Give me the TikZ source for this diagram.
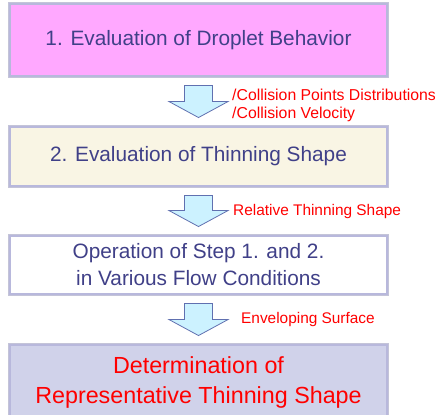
\documentclass[tikz,border=0pt]{standalone}
\usepackage{fontspec}
\setmainfont{Liberation Sans}
\usetikzlibrary{calc}
\definecolor{bord}{RGB}{92,96,168}
\definecolor{bordin}{RGB}{184,184,220}
\definecolor{bordout}{RGB}{196,196,216}
\definecolor{pinkf}{RGB}{255,168,255}
\definecolor{creamf}{RGB}{249,245,228}
\definecolor{lavf}{RGB}{208,210,234}
\definecolor{txtb}{RGB}{64,64,136}
\definecolor{arrf}{RGB}{204,242,255}
\definecolor{arrd}{RGB}{96,112,176}
\definecolor{lblr}{RGB}{255,0,0}
\begin{document}
\begin{tikzpicture}[x=1pt,y=-1pt,
  box/.style={preaction={draw=bordout, line width=4.4pt},
    draw=bord, double=bordin, line width=0.9pt, double distance=1.1pt,
    minimum width=377pt, inner sep=0pt, align=center, text=txtb,
    font=\fontsize{20.8}{27}\selectfont},
  barrow/.style={draw=arrd, fill=arrf, line width=0.8pt, line join=miter},
  lbl/.style={anchor=west, text=lblr, inner sep=0pt, align=left,
    font=\fontsize{15.4}{18}\selectfont}]
\useasboundingbox (0,0) rectangle (435,414);
\clip (0,0) rectangle (435,414);
\node[box, fill=pinkf, minimum height=72pt] (b1) at (198.5,40) {1. Evaluation of Droplet Behavior};
\node[box, fill=creamf, minimum height=59pt] (b2) at (198.5,156.5) {2. Evaluation of Thinning Shape};
\node[box, fill=white, minimum height=58pt] (b3) at (198.5,265) {Operation of Step 1. and 2.\\in Various Flow Conditions};
\node[box, fill=lavf, minimum height=74pt, text=lblr, font=\fontsize{23.3}{30}\selectfont] (b4) at (198.5,382) {Determination of\\Representative Thinning Shape};
% block arrows
\foreach \a/\b in {b1/b2, b2/b3, b3/b4}{
  \draw[barrow] ($(\a.south)+(-14,9)$) -- ($(\a.south)+(14,9)$)
    -- ($(\b.north)+(14,-25)$) -- ($(\b.north)+(29.5,-25)$)
    -- ($(\b.north)+(0,-9)$) -- ($(\b.north)+(-29.5,-25)$)
    -- ($(\b.north)+(-14,-25)$) -- cycle;
}
\node[lbl, font=\fontsize{15.8}{18}\selectfont] (l1) at (232,105) {/Collision Points Distributions\\/Collision Velocity};
\node[lbl] (l2) at (233,212) {Relative Thinning Shape};
\node[lbl] (l3) at (241,320) {Enveloping Surface};
\end{tikzpicture}
\end{document}
